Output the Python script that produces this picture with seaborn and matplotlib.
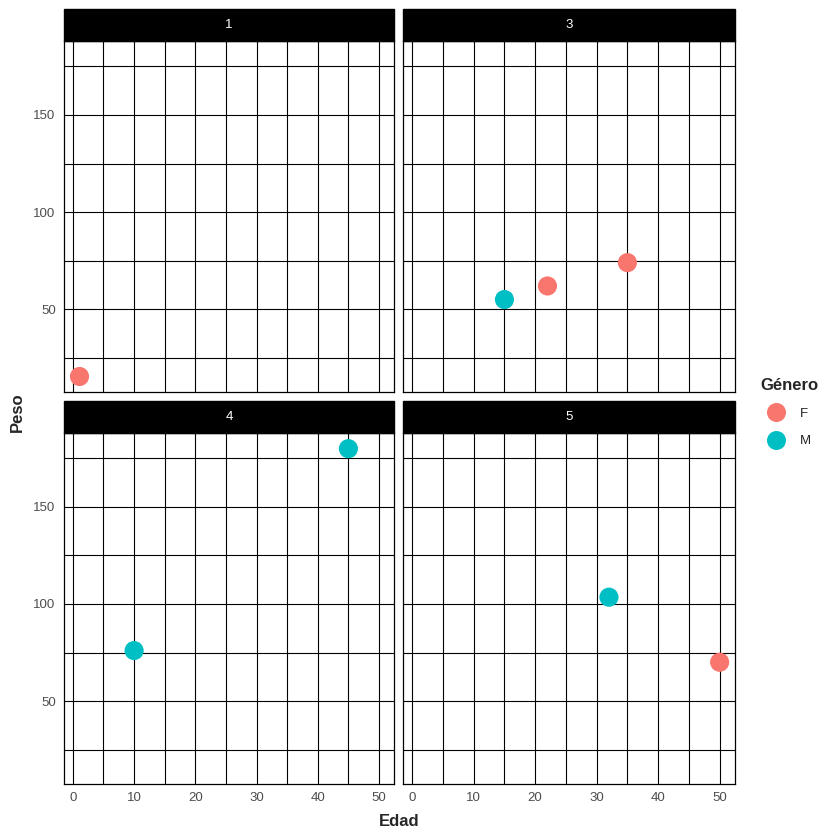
import numpy as np
import pandas as pd
import matplotlib
matplotlib.use('Agg')
import matplotlib.pyplot as plt
from matplotlib.patches import Rectangle
from matplotlib.ticker import MultipleLocator
import seaborn as sns

# datos por panel (grupo)
grupo = [1, 3, 3, 3, 4, 4, 5, 5]
edad = [1, 15, 22, 35, 10, 45, 32, 50]
peso = [15.5, 55, 62, 74, 76, 180, 103.5, 70]
genero = ['F', 'M', 'F', 'F', 'M', 'M', 'M', 'F']
colores = {'F': '#F8766D', 'M': '#00BFC4'}

df = pd.DataFrame({'Grupo': grupo, 'Edad': edad, 'Peso': peso, 'Género': genero})

sns.set_style('white')
plt.rcParams['font.family'] = ['Liberation Sans', 'DejaVu Sans']

g = sns.relplot(data=df, x='Edad', y='Peso', hue='Género', col='Grupo', col_wrap=2,
                palette=colores, hue_order=['F', 'M'], s=190, linewidth=0,
                height=4, aspect=1, facet_kws={'sharex': True, 'sharey': True})
fig = g.figure
fig.set_size_inches(8.4, 8.4)

# limites con la expansion de 5% de ggplot
xr = max(edad) - min(edad)
yr = max(peso) - min(peso)
xlim = (min(edad) - 0.05 * xr, max(edad) + 0.05 * xr)
ylim = (min(peso) - 0.05 * yr, max(peso) + 0.05 * yr)

W = H = 840
pos = [
    (64, 40.7, 394, 392.3),
    (403.3, 40.7, 734.7, 392.3),
    (64, 432.7, 394, 784),
    (403.3, 432.7, 734.7, 784),
]
strip_px = 32

for i, (ax, (key)) in enumerate(zip(g.axes.flat, g.col_names)):
    x0, y0, x1, y1 = pos[i]
    ax.set_position([x0 / W, 1 - y1 / H, (x1 - x0) / W, (y1 - y0) / H])
    ax.set_xlim(xlim)
    ax.set_ylim(ylim)
    ax.xaxis.set_major_locator(MultipleLocator(10))
    ax.xaxis.set_minor_locator(MultipleLocator(5))
    ax.yaxis.set_major_locator(MultipleLocator(50))
    ax.yaxis.set_minor_locator(MultipleLocator(25))
    ax.grid(which='both', color='black', linewidth=0.8)
    ax.set_axisbelow(True)
    for sp in ax.spines.values():
        sp.set_visible(True)
        sp.set_color('black')
        sp.set_linewidth(0.9)
    ax.tick_params(which='minor', length=0)
    ax.tick_params(which='major', length=4, width=0.8, color='#333333',
                   labelsize=9.5, labelcolor='#4D4D4D', pad=2)
    if i % 2 == 1:
        ax.tick_params(axis='y', which='major', length=0, labelleft=False)
    if i < 2:
        ax.tick_params(axis='x', which='major', length=0, labelbottom=False)
    ax.set_title('')
    ax.set_xlabel('')
    ax.set_ylabel('')
    # tira negra del panel
    sh = strip_px / (y1 - y0)
    ax.add_patch(Rectangle((0, 1), 1, sh, transform=ax.transAxes, facecolor='black',
                           edgecolor='black', clip_on=False))
    ax.text(0.5, 1 + sh / 2, str(key), transform=ax.transAxes, ha='center', va='center',
            color='white', fontsize=9.5)

fig.text(399.5 / W, 1 - 822 / H, 'Edad', ha='center', va='center', fontsize=12, fontweight='bold')
fig.text(17 / W, 1 - 412 / H, 'Peso', ha='center', va='center', rotation=90,
         fontsize=12, fontweight='bold')

sns.move_legend(g, 'upper left', bbox_to_anchor=(754 / W, 1 - 371 / H), frameon=False,
                title='Género', fontsize=9.5, title_fontsize=12, handletextpad=0.58,
                labelspacing=1.15, borderpad=0, handlelength=2.4, alignment='left')
leg = g._legend
leg.get_title().set_fontweight('bold')
for h in leg.legend_handles:
    h.set_markersize(13.7)

fig.savefig('out.png', dpi=100)
